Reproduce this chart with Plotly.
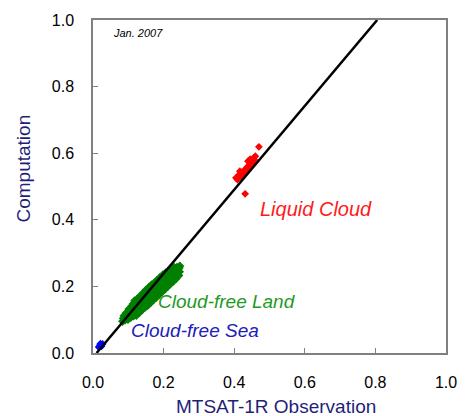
import plotly.graph_objects as go

# Reflectance: MTSAT-1R observation vs. radiative transfer computation
liquid_obs = [0.405, 0.409, 0.412, 0.414, 0.417, 0.420, 0.421, 0.424, 0.427, 0.429,
              0.431, 0.433, 0.436, 0.437, 0.440, 0.441, 0.444, 0.446, 0.447, 0.450,
              0.452, 0.455, 0.457, 0.460, 0.445, 0.416, 0.439, 0.470, 0.431]
liquid_cmp = [0.526, 0.521, 0.533, 0.527, 0.537, 0.530, 0.542, 0.535, 0.546, 0.539,
              0.551, 0.545, 0.557, 0.549, 0.561, 0.554, 0.567, 0.573, 0.562, 0.579,
              0.570, 0.586, 0.580, 0.591, 0.582, 0.546, 0.576, 0.619, 0.478]

land_obs = [0.084, 0.086, 0.088, 0.091, 0.093, 0.094, 0.099, 0.101, 0.100, 0.102,
            0.107, 0.109, 0.108, 0.110, 0.115, 0.117, 0.116, 0.114, 0.118,
            0.123, 0.125, 0.124, 0.122, 0.126, 0.131, 0.133, 0.132, 0.130, 0.134,
            0.139, 0.141, 0.140, 0.138, 0.142, 0.147, 0.149, 0.148, 0.146, 0.150,
            0.155, 0.157, 0.156, 0.154, 0.158, 0.163, 0.165, 0.164, 0.162, 0.166,
            0.171, 0.173, 0.172, 0.170, 0.174, 0.179, 0.181, 0.180, 0.178, 0.182,
            0.187, 0.189, 0.188, 0.186, 0.190, 0.195, 0.197, 0.196, 0.194, 0.198,
            0.203, 0.205, 0.204, 0.202, 0.206, 0.211, 0.213, 0.212, 0.210, 0.214,
            0.219, 0.221, 0.220, 0.218, 0.222, 0.227, 0.229, 0.228, 0.226, 0.230,
            0.235, 0.237, 0.236, 0.238, 0.243, 0.245, 0.244, 0.246]
land_cmp = [0.095, 0.104, 0.112, 0.099, 0.110, 0.120, 0.101, 0.113, 0.124, 0.132,
            0.107, 0.118, 0.131, 0.141, 0.111, 0.123, 0.135, 0.148, 0.157,
            0.113, 0.127, 0.140, 0.152, 0.163, 0.121, 0.134, 0.148, 0.160, 0.171,
            0.129, 0.142, 0.156, 0.168, 0.180, 0.137, 0.150, 0.163, 0.176, 0.189,
            0.143, 0.157, 0.170, 0.184, 0.197, 0.151, 0.164, 0.178, 0.192, 0.205,
            0.159, 0.172, 0.186, 0.199, 0.211, 0.167, 0.180, 0.194, 0.207, 0.219,
            0.175, 0.188, 0.202, 0.215, 0.227, 0.183, 0.196, 0.210, 0.223, 0.235,
            0.191, 0.204, 0.218, 0.231, 0.241, 0.199, 0.212, 0.226, 0.239, 0.247,
            0.207, 0.220, 0.233, 0.245, 0.253, 0.215, 0.228, 0.240, 0.251, 0.257,
            0.223, 0.236, 0.248, 0.257, 0.233, 0.244, 0.255, 0.261]

sea_obs = [0.016, 0.020, 0.024, 0.027, 0.021]
sea_cmp = [0.018, 0.024, 0.020, 0.027, 0.028]

# Regression line through all samples
fit_slope = 1.258
fit_intercept = -0.0128

tick_vals = [0.0, 0.2, 0.4, 0.6, 0.8, 1.0]
tick_text = ["0.0", "0.2", "0.4", "0.6", "0.8", "1.0"]

fit_x = [(0.0 - fit_intercept) / fit_slope, (1.0 - fit_intercept) / fit_slope]
fit_y = [fit_slope * v + fit_intercept for v in fit_x]

fig = go.Figure()

fig.add_trace(go.Scatter(x=land_obs, y=land_cmp, mode="markers",
                         marker=dict(symbol="diamond", size=7, color="#008000"),
                         showlegend=False))
fig.add_trace(go.Scatter(x=liquid_obs, y=liquid_cmp, mode="markers",
                         marker=dict(symbol="diamond", size=6, color="#ff0000"),
                         showlegend=False))
fig.add_trace(go.Scatter(x=sea_obs, y=sea_cmp, mode="markers",
                         marker=dict(symbol="diamond", size=6, color="#0000ff"),
                         showlegend=False))
fig.add_trace(go.Scatter(x=fit_x, y=fit_y, mode="lines",
                         line=dict(color="black", width=2.5),
                         showlegend=False))

axis_common = dict(
    range=[0, 1], tickvals=tick_vals, ticktext=tick_text,
    showgrid=False, zeroline=False,
    showline=True, mirror=True, linecolor="#808080", linewidth=1.5,
    ticks="inside", ticklen=5, tickcolor="#808080", tickwidth=1,
    tickfont=dict(family="Liberation Sans, Arial", size=16, color="black"),
    ticklabelstandoff=14,
)

fig.update_layout(
    width=469, height=416,
    margin=dict(l=93, r=12, t=14, b=63),
    paper_bgcolor="white", plot_bgcolor="white",
    xaxis=axis_common,
    yaxis=axis_common,
    font=dict(family="Liberation Sans, Arial"),
)

title_color = "#1f1f7a"
fig.add_annotation(text="MTSAT-1R Observation", xref="paper", yref="paper",
                   x=(282 - 93) / 364, y=-(407 - 353) / 339,
                   xanchor="center", yanchor="middle", showarrow=False,
                   font=dict(size=19, color=title_color))
fig.add_annotation(text="Computation", xref="paper", yref="paper",
                   x=-(93 - 21) / 364, y=(353 - 165) / 339, textangle=-90,
                   xanchor="center", yanchor="middle", showarrow=False,
                   font=dict(size=19, color=title_color))

labels = [
    ("<i>Liquid Cloud</i>", 0.466, 0.432, "#ff1a1a", 20),
    ("<i>Cloud-free Land</i>", 0.179, 0.156, "#1f9a1f", 19),
    ("<i>Cloud-free Sea</i>", 0.102, 0.068, "#2020b8", 19),
    ("<i>Jan. 2007</i>", 0.052, 0.962, "black", 11),
]
for txt, lx, ly, col, sz in labels:
    fig.add_annotation(text=txt, x=lx, y=ly, xref="x", yref="y",
                       xanchor="left", yanchor="middle", showarrow=False,
                       font=dict(size=sz, color=col))

fig.write_html("out.html")
